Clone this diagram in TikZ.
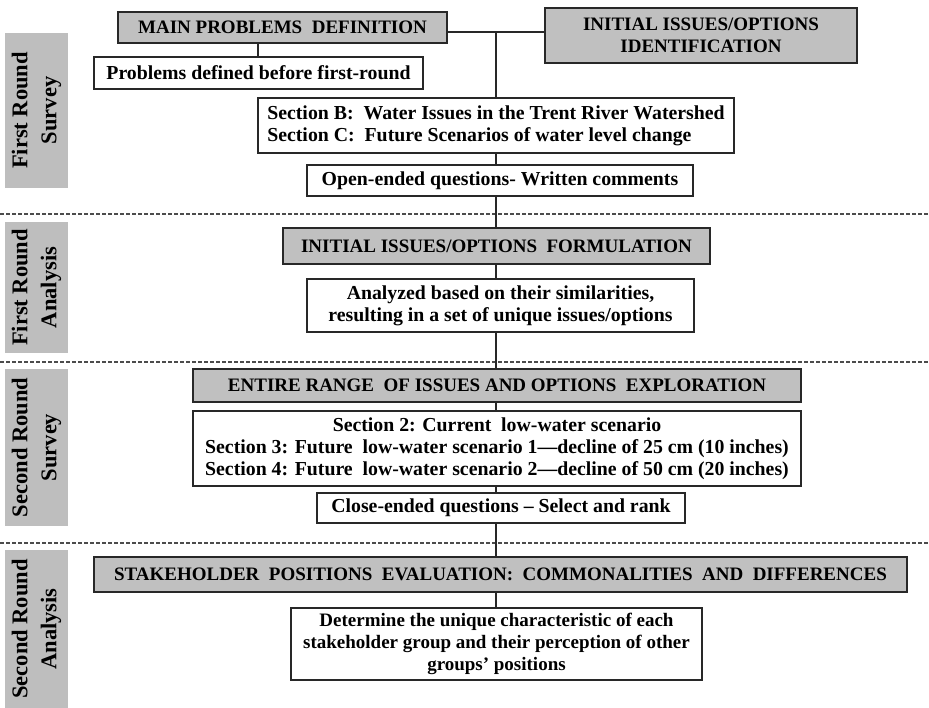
\documentclass[tikz,border=0pt]{standalone}
\usepackage{fontspec}
\setmainfont{Liberation Serif}
\definecolor{boxgray}{RGB}{192,192,192}
\definecolor{sidegray}{RGB}{190,190,190}
\definecolor{edge}{RGB}{40,40,40}
\begin{document}
\begin{tikzpicture}[x=1pt,y=-1pt,
  base/.style={draw=edge, line width=1.3pt, inner sep=0pt, align=center,
    font=\bfseries\fontsize{19}{22}\selectfont},
  graybox/.style={base, fill=boxgray},
  whitebox/.style={base, fill=white, font=\bfseries\fontsize{19.8}{22}\selectfont},
  sidelabel/.style={fill=sidegray, rotate=90, inner sep=0pt, align=center,
    minimum height=63, font=\bfseries\fontsize{22.5}{29}\selectfont},
  sep/.style={draw=black!70, line width=1.1pt, dash pattern=on 3.5pt off 2.5pt},
  link/.style={draw=edge, line width=1.3pt}]
\useasboundingbox (0,0) rectangle (929,708);

% separators
\coordinate (L1) at (0,214);   \coordinate (R1) at (929,214);
\coordinate (L2) at (0,362);   \coordinate (R2) at (929,362);
\coordinate (L3) at (0,543);   \coordinate (R3) at (929,543);
\draw[sep] (L1) -- (R1);
\draw[sep] (L2) -- (R2);
\draw[sep] (L3) -- (R3);

% side labels
\node[sidelabel, minimum width=155] (s1) at (36.5,110.5) {First Round\\Survey};
\node[sidelabel, minimum width=131] (s2) at (36.5,287.5) {First Round\\Analysis};
\node[sidelabel, minimum width=157] (s3) at (36.5,447.5) {Second Round\\Survey};
\node[sidelabel, minimum width=158] (s4) at (36.5,629) {Second Round\\Analysis};

% junction coordinates
\coordinate (j) at (496,32);
\coordinate (k) at (258,50);

% boxes
\node[graybox, minimum width=329, minimum height=31] (mpd) at (282.5,27.5) {MAIN PROBLEMS\ \ DEFINITION};
\node[graybox, minimum width=312, minimum height=55] (iid) at (701,35.5) {INITIAL ISSUES/OPTIONS\\IDENTIFICATION};
\node[whitebox, minimum width=329, minimum height=32] (pdb) at (258.5,73) {Problems defined before first-round};
\node[whitebox, minimum width=476, minimum height=55, align=left] (secB) at (496,125.5)
  {Section B:\ \ Water Issues in the Trent River Watershed\\Section C:\ \ Future Scenarios of water level change};
\node[whitebox, minimum width=386, minimum height=31] (open) at (500,180.5) {Open-ended questions- Written comments};
\node[graybox, minimum width=427, minimum height=36] (form) at (496.5,246) {INITIAL ISSUES/OPTIONS\ \ FORMULATION};
\node[whitebox, minimum width=387, minimum height=53] (anal) at (500.5,305.5)
  {Analyzed based on their similarities,\\resulting in a set of unique issues/options};
\node[graybox, minimum width=608, minimum height=33] (entire) at (497,385.5) {ENTIRE RANGE\ \ OF ISSUES AND OPTIONS\ \ EXPLORATION};
\node[whitebox, minimum width=608, minimum height=75] (sec2) at (497,448.5)
  {Section 2: Current\ \ low-water scenario\\Section 3: Future\ \ low-water scenario 1---decline of 25 cm (10 inches)\\Section 4: Future\ \ low-water scenario 2---decline of 50 cm (20 inches)};
\node[whitebox, minimum width=368, minimum height=30] (close) at (501,508) {Close-ended questions -- Select and rank};
\node[graybox, minimum width=813, minimum height=35] (stake) at (500.5,574.5)
  {STAKEHOLDER\ \ POSITIONS\ \ EVALUATION:\ \ COMMONALITIES\ \ AND\ \ DIFFERENCES};
\node[whitebox, minimum width=411, minimum height=72, font=\bfseries\fontsize{19}{22}\selectfont] (det) at (496.5,644)
  {Determine the unique characteristic of each\\stakeholder group and their perception of other\\groups’ positions};

% connectors
\draw[link] (j -| mpd.east) -- (j -| iid.west);
\draw[link] (k |- mpd.south) -- (k |- pdb.north);
\draw[link] (j) -- (j |- secB.north);
\foreach \a/\b in {secB/open, open/form, form/anal, anal/entire, entire/sec2, sec2/close, close/stake, stake/det}
  \draw[link] (j |- \a.south) -- (j |- \b.north);
\end{tikzpicture}
\end{document}
